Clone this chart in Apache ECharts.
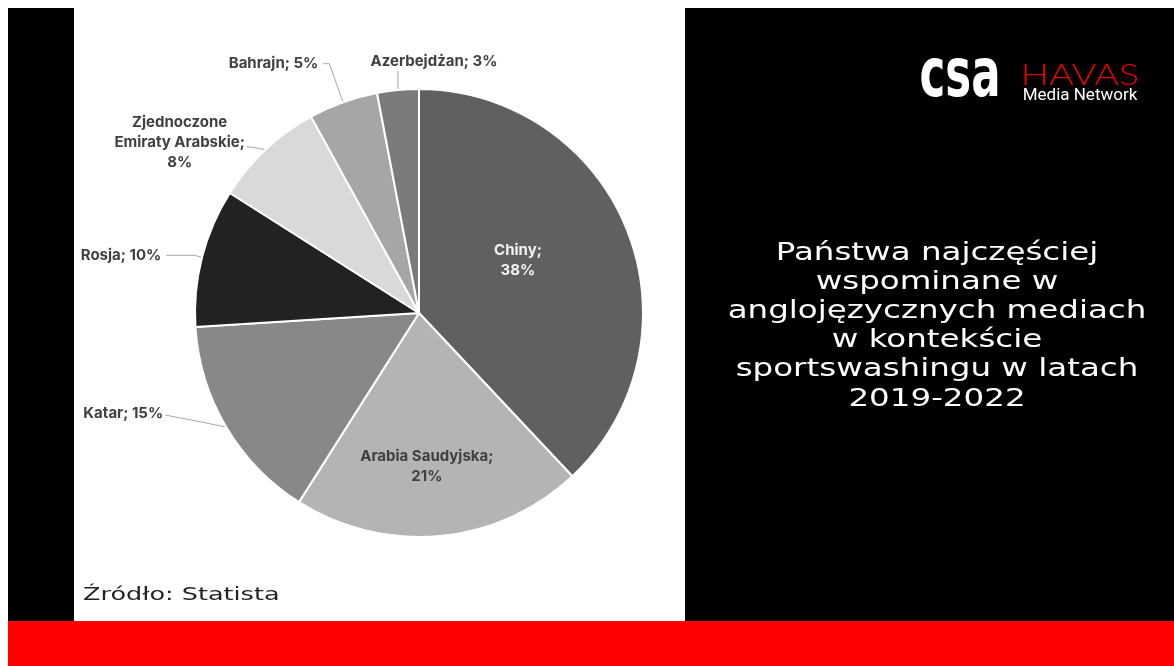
<!DOCTYPE html>
<html>
<head>
<meta charset="utf-8">
<script src="https://cdn.jsdelivr.net/npm/echarts@6/dist/echarts.min.js"></script>
<style>
html,body{margin:0;padding:0;background:#fff;}
#main{width:1174px;height:666px;}
</style>
</head>
<body>
<div id="main"></div>
<script>
// ---- data ----
var categories = ['Chiny', 'Arabia Saudyjska', 'Katar', 'Rosja', 'Zjednoczone Emiraty Arabskie', 'Bahrajn', 'Azerbejdżan'];
var values = [38, 21, 15, 10, 8, 5, 3];
var labelTexts = ['Chiny;\n38%', 'Arabia Saudyjska;\n21%', 'Katar; 15%', 'Rosja; 10%', 'Zjednoczone\nEmiraty Arabskie;\n8%', 'Bahrajn; 5%', 'Azerbejdżan; 3%'];
var insideLabel = [true, true, false, false, false, false, false];
var titleLines = ['Państwa najczęściej', 'wspominane w', 'anglojęzycznych mediach', 'w kontekście', 'sportswashingu w latach', '2019-2022'];
var sourceText = 'Źródło: Statista';

// ---- styling ----
var colors = ['#606060', '#b4b4b4', '#888888', '#222222', '#d9d9d9', '#a6a6a6', '#7b7b7b'];
var insideColors = ['#f2f2f2', '#404040'];
var insideOffsets = [[-8, -10], [-3, 39]];
var lineLen = [0, 0, 8, 8, 8, 41, 18];
var lineLen2 = [0, 0, 55, 28, 6, 6, 0];

var chart = echarts.init(document.getElementById('main'), null, {renderer: 'canvas'});

var data = categories.map(function (c, i) {
  var item = {name: c, value: values[i], itemStyle: {color: colors[i]}};
  if (insideLabel[i]) {
    item.label = {position: 'inside', color: insideColors[i], offset: insideOffsets[i]};
    item.labelLine = {show: false};
  } else {
    item.labelLine = {length: lineLen[i], length2: lineLen2[i]};
  }
  return item;
});

// label placement relative to the library-computed anchor on the slice edge
function layoutLabel(params) {
  var i = params.dataIndex;
  var p = params.labelLinePoints;
  if (!p || insideLabel[i]) return {};
  var a = p[0];
  if (i === 6) { // Azerbejdżan: vertical leader, label centred above
    return {x: a[0] + 36, y: a[1] - 29, align: 'center', verticalAlign: 'middle',
      labelLinePoints: [a, [a[0], a[1] - 19], [a[0], a[1] - 19]]};
  }
  if (i === 4) { // ZEA: centred multi-line block
    return {x: a[0] - 86, y: a[1] - 7, align: 'center', verticalAlign: 'middle',
      labelLinePoints: [a, [a[0] - 10, a[1] - 2], [a[0] - 19, a[1] - 3]]};
  }
  if (i === 2) { // Katar: straight leader slightly upward
    return {x: a[0] - 63, y: a[1] - 14, align: 'right', verticalAlign: 'middle',
      labelLinePoints: [a, [a[0] - 30, a[1] - 6], [a[0] - 61, a[1] - 12]]};
  }
  return {};
}

var graphics = [
  {type: 'rect', shape: {x: 8, y: 8, width: 1166, height: 613}, style: {fill: '#000'}, z: -10},
  {type: 'rect', shape: {x: 74, y: 8, width: 611, height: 613}, style: {fill: '#fff'}, z: -9},
  {type: 'rect', shape: {x: 8, y: 621, width: 1166, height: 45}, style: {fill: '#ff0000'}, z: -9},
  {type: 'text', x: 83, y: 596, scaleX: 1.5, style: {text: sourceText, fill: '#222', font: '17px "DejaVu Sans"', textAlign: 'left', textVerticalAlign: 'middle'}},
  {type: 'text', x: 960, y: 78, scaleX: 0.64, style: {text: 'csa', fill: '#fff', font: 'bold 68px "DejaVu Sans"', textAlign: 'center', textVerticalAlign: 'middle'}},
  {type: 'text', x: 1080, y: 75, scaleX: 1.25, style: {text: 'HAVAS', fill: '#e60000', font: '300 30px "Lato"', textAlign: 'center', textVerticalAlign: 'middle'}},
  {type: 'text', x: 1080, y: 96, style: {text: 'Media Network', fill: '#fff', font: '17px "Roboto"', textAlign: 'center', textVerticalAlign: 'middle'}}
];
titleLines.forEach(function (t, i) {
  graphics.push({type: 'text', x: 937, y: 253 + i * 29.2, scaleX: 1.3,
    style: {text: t, fill: '#fff', font: '25px "DejaVu Sans"', textAlign: 'center', textVerticalAlign: 'middle'}});
});

chart.setOption({
  backgroundColor: '#fff',
  animation: false,
  graphic: graphics,
  series: [{
    type: 'pie',
    center: [419, 313],
    radius: [0, 224],
    startAngle: 90,
    clockwise: true,
    avoidLabelOverlap: false,
    minShowLabelAngle: 0,
    data: data,
    itemStyle: {borderColor: '#fff', borderWidth: 2},
    label: {
      show: true,
      position: 'outside',
      formatter: function (p) { return labelTexts[p.dataIndex]; },
      color: '#404040',
      fontFamily: 'Inter',
      fontWeight: 'bold',
      fontSize: 15,
      lineHeight: 20
    },
    labelLayout: layoutLabel,
    labelLine: {show: true, lineStyle: {color: '#a6a6a6', width: 1}},
    emphasis: {disabled: true}
  }]
});
</script>
</body>
</html>
